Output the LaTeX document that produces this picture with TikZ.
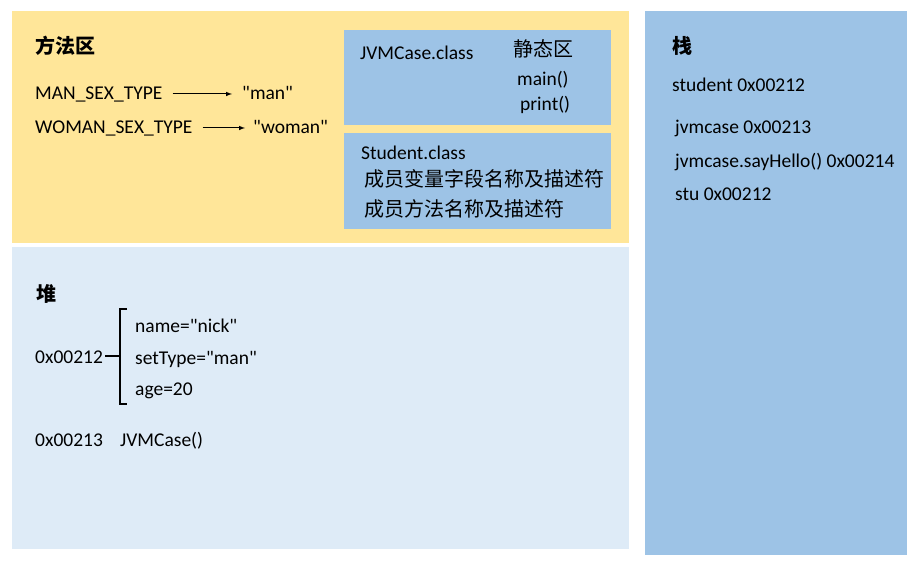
\documentclass[tikz,border=0pt]{standalone}
\usepackage{fontspec}
\setmainfont{Carlito}[Ligatures=TeXOff]
\newfontfamily\cjk{Noto Sans CJK SC}
\usetikzlibrary{arrows}
\definecolor{methodarea}{HTML}{FFE699}
\definecolor{heaparea}{HTML}{DEEBF7}
\definecolor{stackarea}{HTML}{9DC3E6}
\tikzset{
  txt/.style={anchor=base west, inner sep=0pt, font=\fontsize{19.5}{22}\selectfont},
  cjktxt/.style={anchor=base west, inner sep=0pt, font=\cjk\fontsize{20}{24}\selectfont},
  head/.style={anchor=base west, inner sep=0pt, font=\cjk\bfseries\fontsize{20}{24}\selectfont},
  arr/.style={-latex, line width=1pt},
}
\begin{document}
\begin{tikzpicture}[x=1pt,y=-1pt]
				\useasboundingbox (0,0) rectangle (921,568);
				\fill[methodarea] (12,11) rectangle (629,243);
				\fill[heaparea] (12,247) rectangle (629,549);
				\fill[stackarea] (645,11) rectangle (907,555);
				\fill[stackarea] (344,30) rectangle (611,125);
				\fill[stackarea] (344,133) rectangle (611,229);
				
				\node[head] (method) at (35,53.5) {方法区};
				\node[txt] (manK) at (35,99) {MAN\_SEX\_TYPE};
				\node[txt] (manV) at (242,99) {"man"};
				\node[txt] (womanK) at (35,133) {WOMAN\_SEX\_TYPE};
				\node[txt] (womanV) at (253,133) {"woman"};
				
				\node[txt] (jvmcls) at (360,59) {JVMCase.class};
				\node[cjktxt] (static) at (513,56) {静态区};
				\node[txt] (main) at (517,85) {main()};
				\node[txt] (print) at (520,110) {print()};
				
				\node[txt] (stucls) at (361,159) {Student.class};
				\node[cjktxt] (fields) at (364,186.5) {成员变量字段名称及描述符};
				\node[cjktxt] (methods) at (364,216.5) {成员方法名称及描述符};
				
				\node[head] (stack) at (672,53.5) {栈};
				\node[txt] (s1) at (672,91) {student 0x00212};
				\node[txt] (s2) at (675,133) {jvmcase 0x00213};
				\node[txt] (s3) at (675,167) {jvmcase.sayHello() 0x00214};
				\node[txt] (s4) at (675,200) {stu 0x00212};
				
				\node[head] (heap) at (36,301) {堆};
				\node[txt] (h212) at (35,363) {0x00212};
				\node[txt] (f1) at (135,332) {name="nick"};
				\node[txt] (f2) at (135,364) {setType="man"};
				\node[txt] (f3) at (135,395) {age=20};
				\node[txt] (h213) at (35,446) {0x00213};
				\node[txt] (h213v) at (120,446) {JVMCase()};
				
				\coordinate (brT) at (127,309);
				\coordinate (brB) at (127,404);
				\coordinate (brM) at (120,356);
				
				\draw[arr] ([xshift=10pt]manK.east) -- ([xshift=-10pt]manK.east -| manV.west);
				\draw[arr] ([xshift=10pt]womanK.east) -- ([xshift=-8pt]womanK.east -| womanV.west);
				\draw[line width=2pt] (brT) -- (brT -| brM) -- (brB -| brM) -- (brB);
				\draw[line width=1.5pt] ([xshift=2pt]h212.east |- brM) -- (brM);
			\end{tikzpicture}
\end{document}
